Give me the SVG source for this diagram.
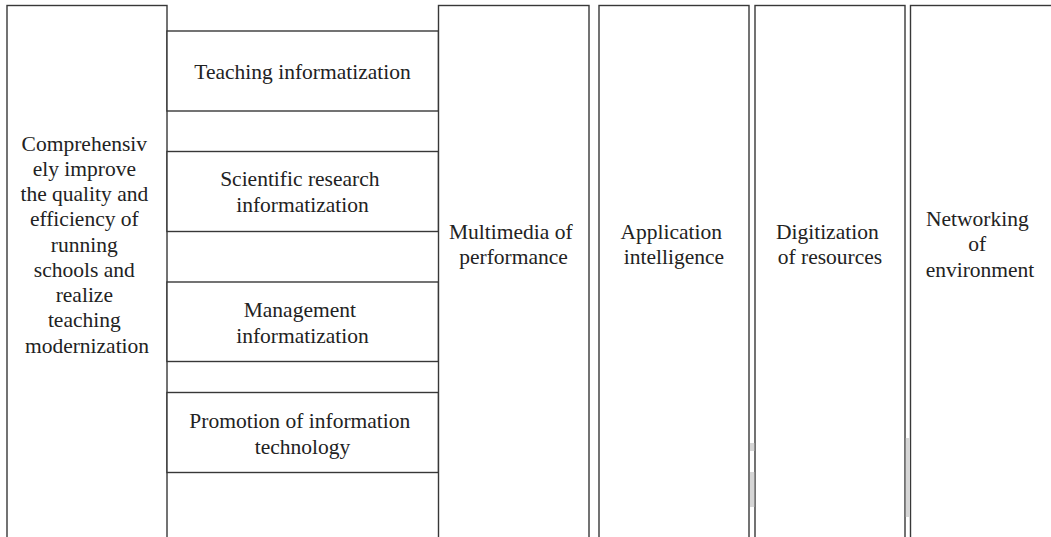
<svg xmlns="http://www.w3.org/2000/svg" width="1051" height="537" viewBox="0 0 1051 537">
  <style>
    .box { fill: #ffffff; stroke: #383838; stroke-width: 1.4; }
    .lbl { font-family: "Liberation Serif", "DejaVu Serif", serif; font-size: 21.5px; fill: #222222; text-anchor: middle; }
    .smudge { fill: #d6d6d6; }
  </style>
  <rect width="1051" height="537" fill="#ffffff"/>

  <!-- goal column -->
  <g id="goal">
    <rect class="box" x="7" y="5.5" width="160" height="545"/>
    <text class="lbl" x="87" y="150.5">
      <tspan x="87">Comprehensiv</tspan>
      <tspan x="87" dy="25.25">ely improve</tspan>
      <tspan x="87" dy="25.25">the quality and</tspan>
      <tspan x="87" dy="25.25">efficiency of</tspan>
      <tspan x="87" dy="25.25">running</tspan>
      <tspan x="87" dy="25.25">schools and</tspan>
      <tspan x="87" dy="25.25">realize</tspan>
      <tspan x="87" dy="25.25">teaching</tspan>
      <tspan x="87" dy="25.25">modernization</tspan>
    </text>
  </g>

  <!-- informatization tasks -->
  <g id="teaching">
    <rect class="box" x="167" y="31" width="271.5" height="80"/>
    <text class="lbl" x="302.5" y="79">Teaching informatization</text>
  </g>
  <g id="research">
    <rect class="box" x="167" y="151.5" width="271.5" height="80"/>
    <text class="lbl" x="302.5" y="186">
      <tspan x="302.5">Scientific research</tspan>
      <tspan x="302.5" dy="25.5">informatization</tspan>
    </text>
  </g>
  <g id="management">
    <rect class="box" x="167" y="282" width="271.5" height="79.5"/>
    <text class="lbl" x="302.5" y="317">
      <tspan x="302.5">Management</tspan>
      <tspan x="302.5" dy="25.5">informatization</tspan>
    </text>
  </g>
  <g id="promotion">
    <rect class="box" x="167" y="392.5" width="271.5" height="80"/>
    <text class="lbl" x="302.5" y="428">
      <tspan x="302.5">Promotion of information</tspan>
      <tspan x="302.5" dy="25.5">technology</tspan>
    </text>
  </g>

  <!-- characteristic columns -->
  <g id="multimedia">
    <rect class="box" x="438.5" y="5.5" width="150.5" height="545"/>
    <text class="lbl" x="513.5" y="239">
      <tspan x="513.5">Multimedia of</tspan>
      <tspan x="513.5" dy="25.25">performance</tspan>
    </text>
  </g>
  <g id="intelligence">
    <rect class="box" x="599" y="5.5" width="150" height="545"/>
    <text class="lbl" x="674" y="239">
      <tspan x="674">Application</tspan>
      <tspan x="674" dy="25.25">intelligence</tspan>
    </text>
  </g>
  <g id="digitization">
    <rect class="box" x="755" y="5.5" width="150" height="545"/>
    <text class="lbl" x="830" y="239">
      <tspan x="830">Digitization</tspan>
      <tspan x="830" dy="25.25">of resources</tspan>
    </text>
  </g>
  <g id="networking">
    <rect class="box" x="910.5" y="5.5" width="160" height="545"/>
    <text class="lbl" x="980" y="226">
      <tspan x="980">Networking</tspan>
      <tspan x="980" dy="25.25">of</tspan>
      <tspan x="980" dy="25.25">environment</tspan>
    </text>
  </g>

  <!-- faint grey print marks between the paired column edges -->
  <g id="marks">
    <rect class="smudge" x="750" y="443" width="4.3" height="8"/>
    <rect class="smudge" x="750" y="472" width="4.3" height="35"/>
    <rect class="smudge" x="905.8" y="438" width="3.9" height="79"/>
  </g>

  <g id="connectors"/>
</svg>
